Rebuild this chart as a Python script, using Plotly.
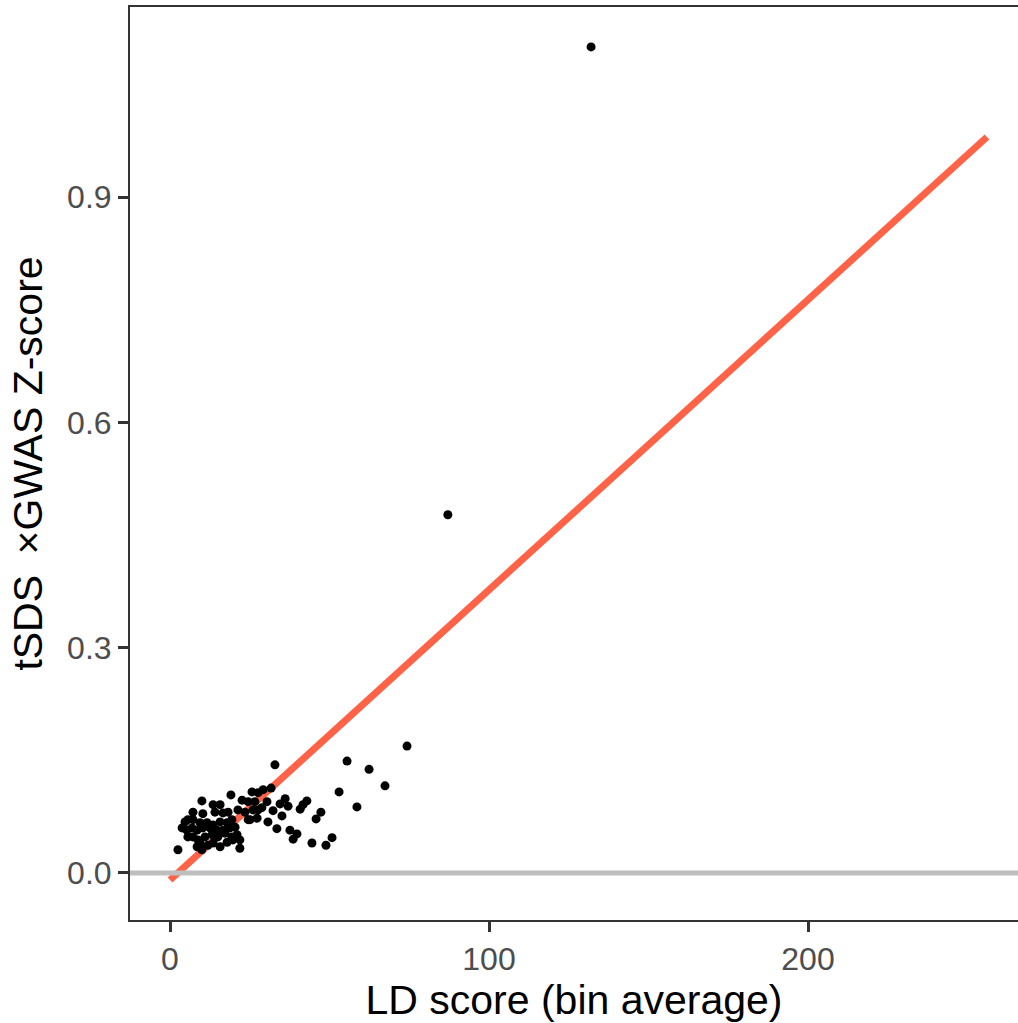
import plotly.graph_objects as go

ld_score = [
    19.1, 10.0, 22.6, 24.5, 13.5, 15.7, 7.2, 10.3, 14.1, 16.6,
    18.2, 21.3, 23.5, 24.5, 4.7, 5.6, 7.2, 9.4, 11.6, 13.5,
    15.7, 17.9, 19.4, 3.8, 5.3, 6.9, 8.5, 10.3, 12.5, 14.7,
    16.6, 18.8, 20.4, 5.6, 7.2, 8.8, 11.0, 13.2, 15.0, 17.2,
    19.4, 21.0, 8.5, 9.4, 10.0, 11.9, 13.5, 15.7, 17.9, 19.7,
    21.9, 21.9, 2.5,
    32.9, 55.5, 62.4, 67.4, 53.0, 58.6, 42.9, 41.7, 40.8, 47.3,
    45.8, 36.1, 37.0, 34.5, 32.3, 35.1, 30.7, 33.5, 37.6, 39.8,
    38.6, 44.5, 48.9, 50.8, 30.4, 31.7, 29.2, 25.7, 27.6, 26.6,
    26.0, 27.6, 27.3, 25.1, 28.8, 74.3, 132.0, 87.1,
]
z_product = [
    0.104, 0.096, 0.097, 0.095, 0.091, 0.091, 0.081, 0.079, 0.081, 0.080,
    0.081, 0.084, 0.081, 0.071, 0.068, 0.071, 0.071, 0.067, 0.067, 0.064,
    0.068, 0.067, 0.071, 0.060, 0.057, 0.060, 0.057, 0.060, 0.060, 0.057,
    0.057, 0.060, 0.061, 0.048, 0.048, 0.044, 0.048, 0.051, 0.048, 0.053,
    0.048, 0.051, 0.035, 0.040, 0.031, 0.037, 0.040, 0.035, 0.041, 0.044,
    0.044, 0.033, 0.031,
    0.144, 0.149, 0.138, 0.116, 0.108, 0.088, 0.096, 0.091, 0.085, 0.081,
    0.072, 0.099, 0.089, 0.092, 0.083, 0.076, 0.068, 0.059, 0.057, 0.052,
    0.045, 0.040, 0.037, 0.047, 0.095, 0.113, 0.111, 0.108, 0.107, 0.095,
    0.084, 0.084, 0.073, 0.071, 0.087, 0.169, 1.100, 0.477,
]

fit_x = [0.0, 256.1]
fit_y = [-0.0093, 0.980]

x_ticks = [0, 100, 200]
y_ticks = [0.0, 0.3, 0.6, 0.9]
y_tick_labels = ["0.0", "0.3", "0.6", "0.9"]

fig = go.Figure()
fig.add_trace(go.Scatter(
    x=fit_x, y=fit_y, mode="lines",
    line=dict(color="#FF6347", width=7),
    hoverinfo="skip", showlegend=False,
))
fig.add_trace(go.Scatter(
    x=[-20, 300], y=[0, 0], mode="lines",
    line=dict(color="#BEBEBE", width=5),
    hoverinfo="skip", showlegend=False,
))
fig.add_trace(go.Scatter(
    x=ld_score, y=z_product, mode="markers",
    marker=dict(color="black", size=9, line=dict(width=0)),
    showlegend=False,
))

axis_font = dict(family="Liberation Sans, Arial, sans-serif", size=32, color="#4D4D4D")
title_font = dict(family="Liberation Sans, Arial, sans-serif", size=41, color="black")

fig.update_layout(
    width=1018, height=1023,
    margin=dict(l=130, r=0, t=7, b=103),
    paper_bgcolor="white", plot_bgcolor="white",
    showlegend=False,
    xaxis=dict(
        range=[-12.54, 265.83],
        tickvals=x_ticks, ticktext=[str(v) for v in x_ticks],
        ticks="outside", ticklen=10, tickwidth=3, tickcolor="#333333",
        showgrid=False, zeroline=False,
        showline=True, linecolor="#333333", linewidth=2, mirror=True,
        tickfont=axis_font,
        title=dict(text="LD score (bin average)", font=title_font, standoff=10),
    ),
    yaxis=dict(
        range=[-0.0626, 1.1531],
        tickvals=y_ticks, ticktext=y_tick_labels,
        ticks="outside", ticklen=10, tickwidth=3, tickcolor="#333333",
        showgrid=False, zeroline=False,
        showline=True, linecolor="#333333", linewidth=2, mirror=False,
        tickfont=axis_font,
        title=dict(text="tSDS\u2002\u00d7GWAS Z-score", font=title_font, standoff=12),
    ),
)

fig.write_html("out.html")
